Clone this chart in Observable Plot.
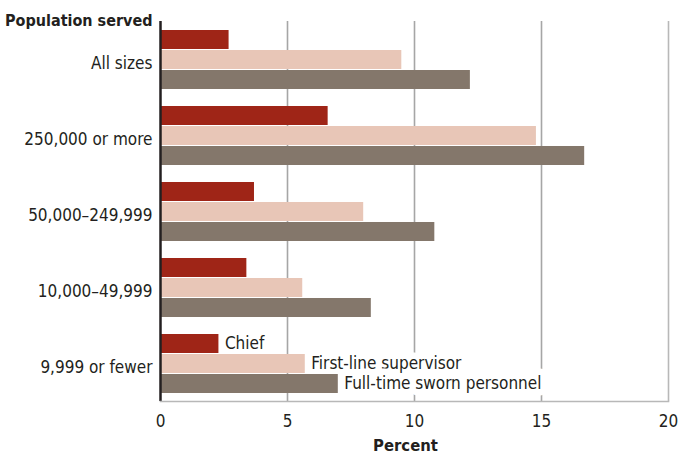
<!DOCTYPE html>
<html>
<head>
<meta charset="utf-8">
<script src="https://cdn.jsdelivr.net/npm/d3@7"></script>
<script src="https://cdn.jsdelivr.net/npm/@observablehq/plot@0.6"></script>
<style>
  html, body { margin: 0; padding: 0; background: #fff; }
  #chart { width: 678px; height: 454px; }
</style>
</head>
<body>
<div id="chart"></div>
<script>
const categories = ["All sizes", "250,000 or more", "50,000–249,999", "10,000–49,999", "9,999 or fewer"];
const series = ["Chief", "First-line supervisor", "Full-time sworn personnel"];
const chief = [2.7, 6.6, 3.7, 3.4, 2.3];
const firstLine = [9.5, 14.8, 8.0, 5.6, 5.7];
const fullTime = [12.2, 16.7, 10.8, 8.3, 7.0];
const xTicks = [0, 5, 10, 15, 20];
const gridTicks = [5, 10, 15, 20];
const yTitle = "Population served";
const xTitle = "Percent";

const valuesBySeries = [chief, firstLine, fullTime];
const table = [];
categories.forEach((c, i) => {
  series.forEach((s, j) => table.push({category: c, series: s, value: valuesBySeries[j][i]}));
});
const lastCat = categories[categories.length - 1];
const legendRows = table.filter(d => d.category === lastCat);

const FONT = '"Liberation Sans Narrow", "DejaVu Sans Condensed", "Roboto Condensed", "Open Sans", sans-serif';
const INK = "#231f20";
const FS = 17;

const chart = Plot.plot({
  width: 678,
  height: 454,
  marginLeft: 160,
  marginRight: 10,
  marginTop: 21,
  marginBottom: 53,
  style: {fontFamily: FONT, color: INK, background: "#fff"},
  x: {domain: [0, 20]},
  y: {domain: series, paddingInner: 0.05, paddingOuter: 0.425, axis: null},
  fy: {domain: categories, padding: 0},
  color: {domain: series, range: ["#9f2517", "#e8c6b7", "#84776b"]},
  marks: [
    Plot.ruleX(gridTicks, {stroke: d => d === 20 ? "#b8b8b8" : "#a6a6a6", strokeWidth: 1.6}),
    Plot.text(legendRows, {
      x: "value", y: "series", fy: "category", text: "series",
      textAnchor: "start", dx: 6, fontSize: FS, fill: INK,
      stroke: "white", strokeWidth: 13, strokeLinejoin: "round", paintOrder: "stroke"
    }),
    Plot.barX(table, {x: "value", y: "series", fy: "category", fill: "series"}),
    Plot.ruleX([0], {stroke: INK, strokeWidth: 2.5}),
    Plot.frame({anchor: "bottom", fy: [lastCat], stroke: "#b8b8b8", strokeWidth: 1.6}),
    Plot.axisX({ticks: xTicks, tickSize: 0, tickPadding: 13, fontSize: FS, label: null}),
    Plot.axisFy({anchor: "left", tickSize: 0, tickPadding: 8, dy: 4, fontSize: FS, label: null}),
    Plot.text([{category: categories[0], t: yTitle}], {
      fy: "category", text: "t", frameAnchor: "top-left", textAnchor: "end", lineAnchor: "middle",
      dx: -8, dy: -1, fontSize: 16, fontWeight: "bold", fill: INK
    }),
    Plot.text([{category: lastCat, t: xTitle}], {
      fy: "category", text: "t", frameAnchor: "bottom", lineAnchor: "bottom",
      dx: -9, dy: 49, fontSize: 16.5, fontWeight: "bold", fill: INK
    })
  ]
});
document.getElementById("chart").appendChild(chart);
</script>
</body>
</html>
